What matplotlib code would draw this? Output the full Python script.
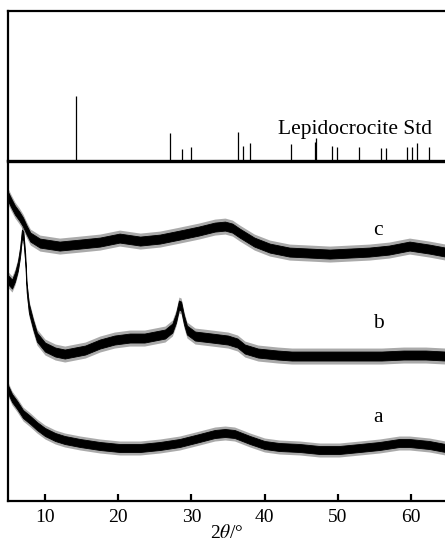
import matplotlib
matplotlib.use('Agg')
import matplotlib.pyplot as plt
import numpy as np

plt.rcParams['font.family'] = ['Liberation Serif', 'DejaVu Serif']
plt.rcParams['mathtext.fontset'] = 'stix'

# Lepidocrocite standard pattern (2theta, relative intensity)
std_pos = [14.3, 27.1, 28.7, 30.0, 36.4, 37.05, 38.05, 43.55, 46.95, 47.05,
           49.25, 49.95, 52.95, 55.95, 56.6, 59.4, 60.2, 60.8, 62.4]
std_int = [100, 43, 19, 21, 45, 23, 28, 26, 30, 35,
           23, 22, 21, 20, 20, 21, 21, 27, 21]

# sample curves (smoothed level, arbitrary units)
c_2t = [5.0, 5.4, 5.9, 6.5, 7.0, 7.5, 8.0, 9.3, 12.0, 14.8, 17.5, 20.2, 23.0,
        25.7, 28.4, 31.0, 33.2, 34.6, 35.6, 36.6, 38.6, 40.7, 43.4, 46.2,
        48.9, 51.6, 54.3, 57.0, 59.8, 62.5, 64.7]
c_int = [304, 298, 291, 285, 279, 271, 264, 258, 255, 257, 259, 263, 260,
         262, 266, 270, 274, 275, 273, 268, 259, 253, 249, 248,
         247, 248, 249, 251, 255, 252, 249]

b_2t = [5.0, 5.5, 5.9, 6.3, 6.6, 6.85, 7.05, 7.3, 7.5, 7.8, 8.4, 8.9, 10.0,
        11.4, 12.7, 14.1, 15.5, 17.5, 19.5, 21.6, 23.6, 26.4, 27.4, 27.9,
        28.3, 28.6, 29.0, 29.4, 30.5, 32.8, 35.0, 36.3, 37.3, 39.1, 41.8,
        43.7, 47.0, 50.0, 53.0, 56.0, 59.0, 62.0, 64.7]
b_int = [221, 217, 224, 235, 249, 267, 265, 243, 213, 193, 176, 164, 154,
         149, 147, 149, 151, 157, 161, 163, 163, 167, 173, 183,
         196, 195, 181, 171, 165, 163, 161, 158, 152, 148, 146,
         145, 145, 145, 145, 145, 146, 146, 145]

a_2t = [5.0, 5.5, 6.2, 7.0, 8.0, 8.9, 10.0, 11.4, 12.7, 14.8, 17.5, 20.2,
        23.0, 25.7, 28.4, 31.1, 33.2, 34.6, 35.9, 38.0, 40.0, 42.0, 44.8,
        47.5, 50.2, 53.0, 55.7, 58.4, 59.8, 62.5, 64.7]
a_int = [111, 103, 96, 87, 81, 75, 69, 64, 61, 58, 55, 53,
         53, 55, 58, 63, 67, 68, 67, 61, 56, 54, 53,
         51, 51, 53, 55, 58, 58, 56, 53]

# half width of the noise band (dense core, spikes)
noise = {'c': (4.5, 8), 'b': (4.5, 8), 'a': (4, 7)}
labels = {'c': (55.5, 271), 'b': (55.5, 178), 'a': (55.5, 84)}

fig = plt.figure(figsize=(4.45, 5.48), dpi=100)
ax = fig.add_axes([0.018, 0.0858, 0.982, 0.6202])
ax_top = fig.add_axes([0.018, 0.706, 0.982, 0.274])
ax_top.set_zorder(3)
ax_top.patch.set_alpha(0)

# top: standard sticks
ax_top.vlines(std_pos, 0, std_int, color='black', linewidth=0.9)
ax_top.set_xlim(4.95, 64.65)
ax_top.set_ylim(0, 230)
ax_top.set_xticks([])
ax_top.set_yticks([])
ax_top.spines['right'].set_visible(False)
for s in ['left', 'top']:
    ax_top.spines[s].set_linewidth(1.6)
ax_top.spines['bottom'].set_linewidth(2.4)
ax_top.text(52.3, 42, 'Lepidocrocite Std', ha='center', va='baseline', fontsize=15.5)

# bottom: sample patterns
curves = {'c': (c_2t, c_int), 'b': (b_2t, b_int), 'a': (a_2t, a_int)}
for key, (tt, yy) in curves.items():
    tt = np.array(tt)
    yy = np.array(yy)
    core, spike = noise[key]
    ax.fill_between(tt, yy - spike, yy + spike, color='#444444', alpha=0.45, linewidth=0)
    ax.fill_between(tt, yy - core, yy + core, color='black', linewidth=0.6, edgecolor='black')
    lx, ly = labels[key]
    ax.text(lx, ly, key, ha='center', va='center', fontsize=15.5)

ax.set_xlim(4.95, 64.65)
ax.set_ylim(0, 340)
ax.set_yticks([])
ax.set_xticks([10, 20, 30, 40, 50, 60])
ax.tick_params(axis='x', direction='in', length=5, width=1.6, labelsize=14, pad=6)
ax.spines['right'].set_visible(False)
ax.spines['top'].set_visible(False)
ax.spines['left'].set_linewidth(1.6)
ax.spines['bottom'].set_linewidth(1.6)
ax.set_xlabel(r'2$\theta$/°', fontsize=14, labelpad=-2)

fig.savefig('out.png', dpi=100)
